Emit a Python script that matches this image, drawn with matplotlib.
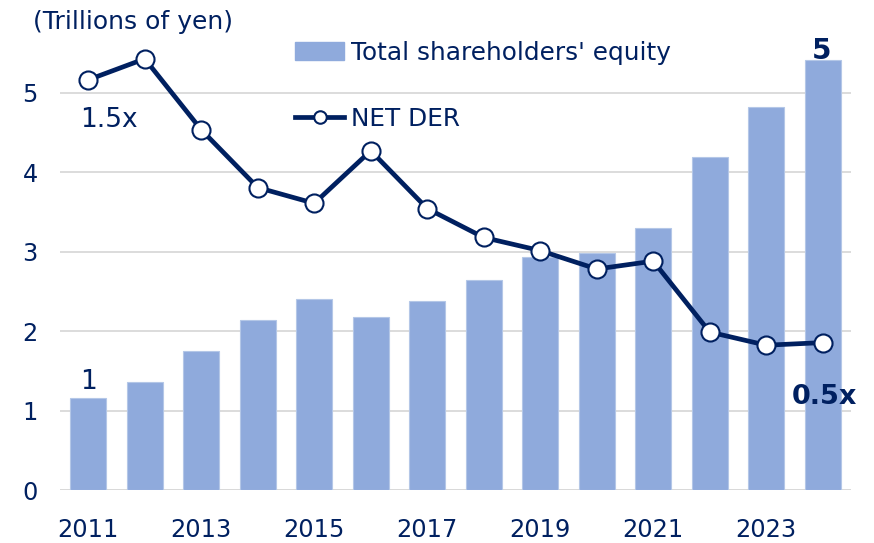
import numpy as np
import matplotlib
matplotlib.use("Agg")
import matplotlib.pyplot as plt
from matplotlib.lines import Line2D
from matplotlib.patches import Patch

# data
years = [2011, 2012, 2013, 2014, 2015, 2016, 2017, 2018, 2019, 2020, 2021, 2022, 2023, 2024]
equity = [1.16, 1.36, 1.75, 2.14, 2.41, 2.18, 2.38, 2.65, 2.94, 2.98, 3.30, 4.19, 4.82, 5.42]
net_der = [1.50, 1.58, 1.31, 1.09, 1.03, 1.23, 1.01, 0.90, 0.85, 0.78, 0.81, 0.54, 0.49, 0.50]
xtick_years = [2011, 2013, 2015, 2017, 2019, 2021, 2023]

navy = "#002060"
bar_col = "#8FAADC"
grid_col = "#D9D9D9"

plt.rcParams["font.family"] = ["DejaVu Sans"]

fig = plt.figure(figsize=(8.74, 5.43), dpi=100)
ax = fig.add_axes([60 / 874, 53 / 543, 791 / 874, 468.5 / 543])
x = np.arange(len(years))

ax.bar(x, equity, width=0.64, color=bar_col, edgecolor="#B4C7E7", linewidth=0.8, zorder=2)
ax.set_xlim(-0.5, len(years) - 0.5)
ax.set_ylim(0, 5.9)
ax.set_yticks([0, 1, 2, 3, 4, 5])
ax.yaxis.grid(True, color=grid_col, linewidth=1.3, zorder=0)
ax.set_axisbelow(True)
for s in ax.spines.values():
    s.set_visible(False)
ax.axhline(0, color=grid_col, linewidth=2, zorder=1)

tick_pos = [years.index(y) for y in xtick_years]
ax.set_xticks(tick_pos)
ax.set_xticklabels([str(y) for y in xtick_years])
ax.tick_params(axis="both", length=0, labelsize=17.3, labelcolor=navy)
ax.tick_params(axis="x", pad=20)
ax.tick_params(axis="y", pad=16)

# NET DER on a hidden second scale
ax2 = ax.twinx()
ax2.set_ylim(-0.061, -0.061 + 0.3022 * 5.9)
ax2.plot(x, net_der, color=navy, linewidth=3.4, marker="o", markersize=13,
         markerfacecolor="white", markeredgecolor=navy, markeredgewidth=1.5, zorder=5)
ax2.axis("off")

fig.text(33 / 874, 1 - 22 / 543, "(Trillions of yen)", fontsize=18, color=navy, va="center")

ax.annotate("1", (0, equity[0]), xytext=(0, 2), textcoords="offset points",
            ha="center", va="bottom", fontsize=19, color=navy)
ax.annotate("5", (13, equity[13]), xytext=(-1, -4), textcoords="offset points",
            ha="center", va="bottom", fontsize=20, color=navy, fontweight="bold")
ax2.annotate("1.5x", (0, net_der[0]), xytext=(15, -29), textcoords="offset points",
             ha="center", va="center", fontsize=19, color=navy)
ax2.annotate("0.5x", (13, net_der[13]), xytext=(1, -39), textcoords="offset points",
             ha="center", va="center", fontsize=19.5, color=navy, fontweight="bold")

handles = [Patch(facecolor=bar_col, edgecolor=bar_col),
           Line2D([], [], color=navy, linewidth=3.4, marker="o", markersize=9,
                  markerfacecolor="white", markeredgecolor=navy, markeredgewidth=1.5)]
leg = ax.legend(handles, ["Total shareholders' equity", "NET DER"],
                loc="upper left", bbox_to_anchor=(295 / 874, 1 - 41 / 543),
                bbox_transform=fig.transFigure, frameon=False, fontsize=17.8,
                handlelength=2.0, handleheight=0.75, handletextpad=0.25,
                labelspacing=1.7, borderpad=0, borderaxespad=0)
for t in leg.get_texts():
    t.set_color(navy)

fig.savefig("out.png", dpi=100)
